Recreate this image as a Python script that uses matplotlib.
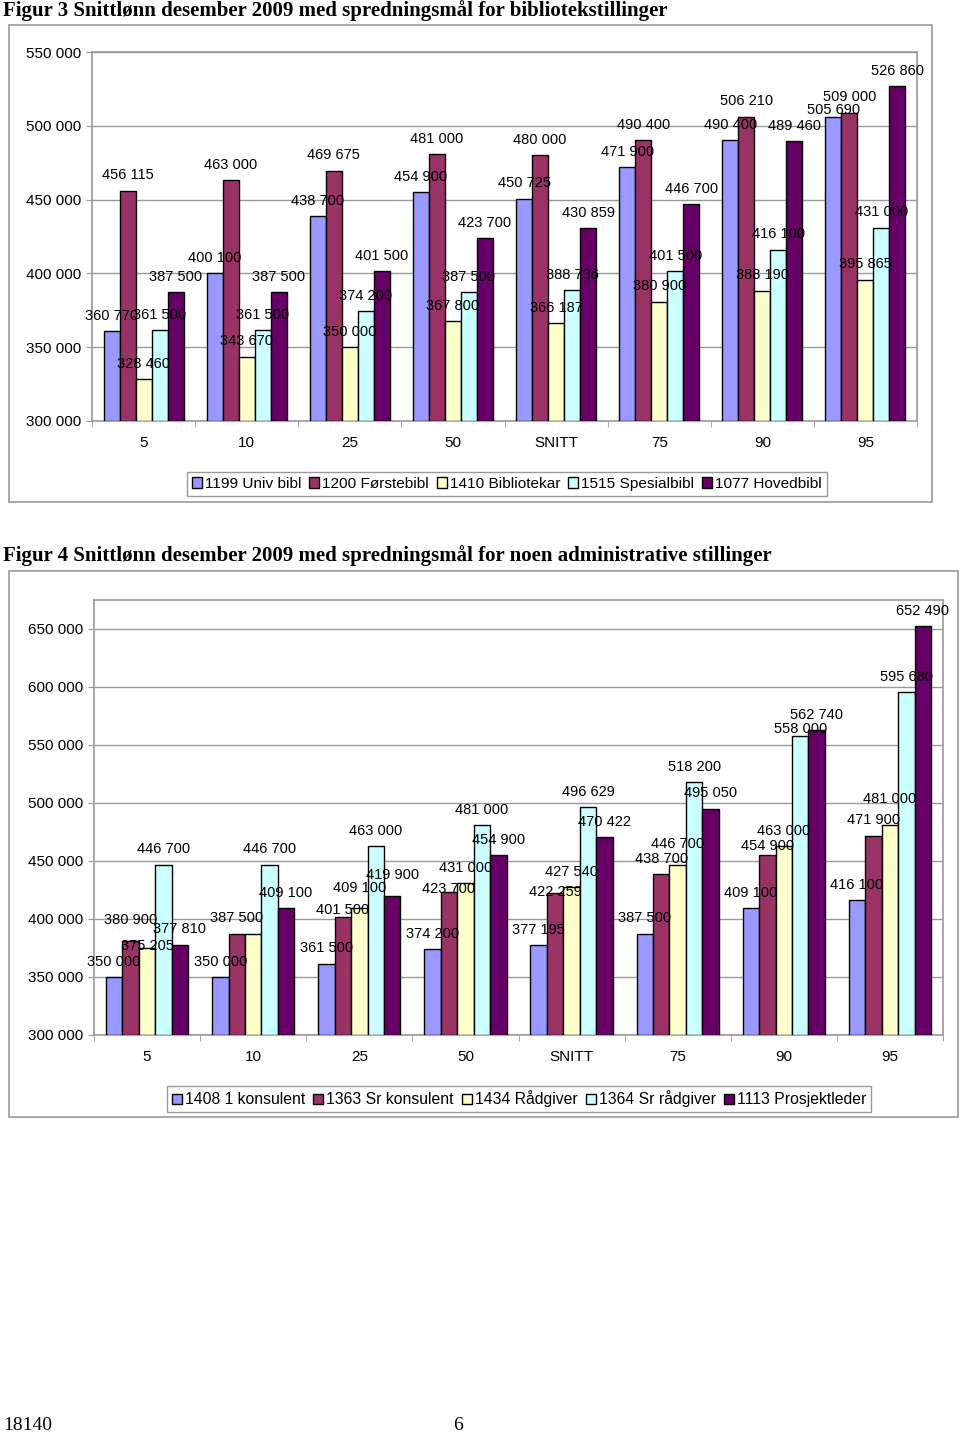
import matplotlib
matplotlib.use("Agg")
import matplotlib.pyplot as plt
from matplotlib.patches import Rectangle, Patch
from matplotlib.ticker import FixedLocator, NullFormatter
import numpy as np

plt.rcParams['font.family'] = ['Liberation Sans', 'DejaVu Sans']

W, H = 960, 1438

categories = ["5", "10", "25", "50", "SNITT", "75", "90", "95"]
colors = ["#9999FF", "#993366", "#FFFFCC", "#CCFFFF", "#660066"]

# Figur 3 - bibliotekstillinger
lib_names = ["1199 Univ bibl", "1200 Førstebibl", "1410 Bibliotekar",
             "1515 Spesialbibl", "1077 Hovedbibl"]
univ_bibl = [360770, 400100, 438700, 454900, 450725, 471900, 490400, 505690]
forstebibl = [456115, 463000, 469675, 481000, 480000, 490400, 506210, 509000]
bibliotekar = [328460, 343670, 350000, 367800, 366187, 380900, 388190, 395865]
spesialbibl = [361500, 361500, 374200, 387500, 388736, 401500, 416100, 431000]
hovedbibl = [387500, 387500, 401500, 423700, 430859, 446700, 489460, 526860]

# Figur 4 - administrative stillinger
adm_names = ["1408 1 konsulent", "1363 Sr konsulent", "1434 Rådgiver",
             "1364 Sr rådgiver", "1113 Prosjektleder"]
konsulent = [350000, 350000, 361500, 374200, 377195, 387500, 409100, 416100]
sr_konsulent = [380900, 387500, 401500, 423700, 422259, 438700, 454900, 471900]
radgiver = [375205, 387500, 409100, 431000, 427540, 446700, 463000, 481000]
sr_radgiver = [446700, 446700, 463000, 481000, 496629, 518200, 558000, 595680]
prosjektleder = [377810, 409100, 419900, 454900, 470422, 495050, 562740, 652490]

# labels that were dragged by hand in the original: (series, category) -> extra px up
nudge1 = {(0, 7): -8}
nudge2 = {(1, 0): 6, (2, 0): -14, (1, 2): -8, (2, 2): 5, (4, 2): 6, (1, 3): -13,
          (1, 4): -14, (2, 5): 5, (1, 6): -6, (3, 6): -9, (2, 7): 11}

fig = plt.figure(figsize=(W / 100, H / 100), dpi=100)


def px_axes(x0, y0, x1, y1):
    return fig.add_axes([x0 / W, 1 - y1 / H, (x1 - x0) / W, (y1 - y0) / H])


def px_frame(x0, y0, x1, y1):
    fig.patches.append(Rectangle((x0 / W, 1 - y1 / H), (x1 - x0) / W, (y1 - y0) / H,
                                 transform=fig.transFigure, facecolor="none",
                                 edgecolor="#999999", lw=1.2, zorder=-1))


def fmt(v):
    return f"{v:,}".replace(",", " ")


def bar_chart(ax, series, names, ymin, ymax, ymaxtick, legend_box, legend_fs, nudge):
    x = np.arange(len(categories))
    bw = 0.155
    prev = None
    for i, (vals, c) in enumerate(zip(series, colors)):
        pos = x + (i - 2) * bw
        ax.bar(pos, np.array(vals) - ymin, bw, bottom=ymin, color=c,
               edgecolor="black", lw=1.0, zorder=3)
        for j, (px, v) in enumerate(zip(pos, vals)):
            # same value as the bar just left of it: only one label shown
            if prev is not None and prev[j] == v:
                continue
            dy = 6 + nudge.get((i, j), 0) * 0.72
            ax.annotate(fmt(v), (px, v), xytext=(0, dy), textcoords="offset points",
                        ha="center", va="bottom", fontsize=10.5, zorder=5,
                        annotation_clip=False)
        prev = vals
    ax.set_xlim(-0.5, len(categories) - 0.5)
    ax.set_ylim(ymin, ymax)
    yt = np.arange(ymin, ymaxtick + 1, 50000)
    ax.set_yticks(yt)
    ax.set_yticklabels([fmt(int(v)) for v in yt], fontsize=11)
    ax.yaxis.grid(True, color="#999999", lw=1.0, zorder=0)
    ax.set_axisbelow(True)
    ax.set_xticks(x)
    ax.set_xticklabels(categories, fontsize=11)
    ax.xaxis.set_minor_locator(FixedLocator(np.arange(-0.5, len(categories), 1.0)))
    ax.xaxis.set_minor_formatter(NullFormatter())
    ax.tick_params(axis="x", which="major", length=0, pad=11)
    ax.tick_params(axis="x", which="minor", length=4, color="#999999")
    ax.tick_params(axis="y", length=4, color="#999999", pad=3.5)
    for s in ax.spines.values():
        s.set_color("#999999")
        s.set_linewidth(1.2)
    handles = [Patch(facecolor=c, edgecolor="black", lw=1.0) for c in colors]
    lx0, ly0, lx1, ly1 = legend_box
    leg = fig.legend(handles, names, loc="center",
                     bbox_to_anchor=((lx0 + lx1) / 2 / W, 1 - (ly0 + ly1) / 2 / H),
                     ncol=5, fontsize=legend_fs, handlelength=0.65, handleheight=0.65,
                     handletextpad=0.2, columnspacing=0.5, borderpad=0.3,
                     fancybox=False, edgecolor="#999999", framealpha=1)
    leg.get_frame().set_linewidth(1.0)


# Figur 3
fig.text(3 / W, 1 - 0 / H, "Figur 3 Snittlønn desember 2009 med spredningsmål for bibliotekstillinger",
         family="Liberation Serif", weight="bold", fontsize=15, ha="left", va="top")
px_frame(9, 25, 932, 502)
ax1 = px_axes(92, 52, 917, 421)
bar_chart(ax1, [univ_bibl, forstebibl, bibliotekar, spesialbibl, hovedbibl], lib_names,
          300000, 550000, 550000, (188, 473, 826, 495), 11.1, nudge1)

# Figur 4
fig.text(3 / W, 1 - 545 / H, "Figur 4 Snittlønn desember 2009 med spredningsmål for noen administrative stillinger",
         family="Liberation Serif", weight="bold", fontsize=15, ha="left", va="top")
px_frame(9, 571, 958, 1117)
ax2 = px_axes(94, 600, 943, 1035)
bar_chart(ax2, [konsulent, sr_konsulent, radgiver, sr_radgiver, prosjektleder], adm_names,
          300000, 675000, 650000, (167, 1087, 871, 1111), 11.3, nudge2)

# footer
fig.text(3 / W, 1 - 1426 / H, "18140", family="Liberation Serif", fontsize=14, ha="left", va="center")
fig.text(458 / W, 1 - 1426 / H, "6", family="Liberation Serif", fontsize=14, ha="center", va="center")

fig.savefig("out.png", dpi=100)
